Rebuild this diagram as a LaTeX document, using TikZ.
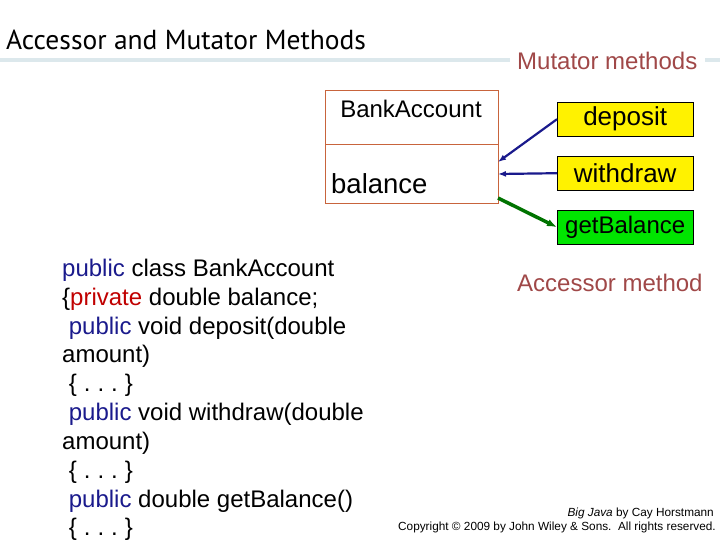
\documentclass[tikz,border=0pt]{standalone}
\usepackage{fontspec}
\setmainfont{Liberation Sans}
\newfontfamily\headfont{PT Sans}
\usetikzlibrary{arrows.meta}
\definecolor{kw}{HTML}{1A1A8C}
\definecolor{pv}{HTML}{C00000}
\definecolor{lab}{HTML}{A04848}
\definecolor{hl}{HTML}{DCE8EC}
\definecolor{ob}{HTML}{C8643C}
\tikzset{meth/.style={draw=black,minimum width=136pt,minimum height=34pt,font=\fontsize{26}{26}\selectfont,inner sep=0pt},
code/.style={anchor=west,font=\fontsize{24}{24}\selectfont,inner sep=0pt},
lbl/.style={font=\fontsize{24}{24}\selectfont,text=lab,inner sep=0pt}}
\newcommand{\dts}{\{\hspace{7pt}.\hspace{7pt}.\hspace{7pt}.\hspace{7pt}\}}
\begin{document}
\begin{tikzpicture}[x=1pt,y=-1pt]
\useasboundingbox (0,0) rectangle (720,540);
\draw[hl,line width=4pt] (0,60) -- (510,60) (705,60) -- (720,60);
\node[anchor=west,inner sep=0pt,font=\headfont\fontsize{27.5}{27.5}\selectfont] (title) at (6,40) {Accessor and Mutator Methods};
\node[lbl,anchor=west] (mut) at (517,61) {Mutator methods};
\node[lbl,anchor=west] (acc) at (517,283) {Accessor method};
\node[draw=ob,minimum width=173pt,minimum height=113pt,anchor=north west,inner sep=0pt] (box) at (325,90) {};
\draw[ob] (325,144) -- (498,144);
\node[font=\fontsize{24}{24}\selectfont,inner sep=0pt] (cls) at (411,109) {BankAccount};
\node[anchor=west,font=\fontsize{27.5}{27.5}\selectfont,inner sep=0pt] (bal) at (331,184) {balance};
\node[meth,fill=yellow,anchor=north west] (dep) at (557,102) {deposit};
\node[meth,fill=yellow,anchor=north west] (wd) at (557,156) {withdraw};
\node[meth,fill=green!90!black,anchor=north west,font=\fontsize{24}{24}\selectfont] (gb) at (557,210) {getBalance};
\coordinate (a1) at (498,162);
\coordinate (a2) at (498,174);
\coordinate (a3) at (498,198);
\draw[kw,line width=2.2pt,-{Latex[length=8pt]}] (dep.west) -- (a1);
\draw[kw,line width=2.2pt,-{Latex[length=8pt]}] (wd.west) -- (a2);
\draw[green!45!black,line width=3.5pt,-{Latex[length=10pt]}] (a3) -- (gb.west);
\node[code] (c1) at (62,270) {\textcolor{kw}{public} class BankAccount};
\node[code] (c2) at (62,299) {\{\textcolor{pv}{private} double balance;};
\node[code] (c3) at (62,328) {\ \textcolor{kw}{public} void deposit(double};
\node[code] (c4) at (62,356) {amount)};
\node[code] (c5) at (62,385) {\ \dts};
\node[code] (c6) at (62,414) {\ \textcolor{kw}{public} void withdraw(double};
\node[code] (c7) at (62,443) {amount)};
\node[code] (c8) at (62,472) {\ \dts};
\node[code] (c9) at (62,501) {\ \textcolor{kw}{public} double getBalance()};
\node[code] (c10) at (62,529) {\ \dts};
\node[anchor=east,inner sep=0pt,font=\fontsize{11.8}{11.8}\selectfont] (f1) at (714,513) {\textit{Big Java} by Cay Horstmann};
\node[anchor=east,inner sep=0pt,font=\fontsize{11.8}{11.8}\selectfont] (f2) at (716,527) {Copyright © 2009 by John Wiley \& Sons.\ \ All rights reserved.};
\end{tikzpicture}
\end{document}
